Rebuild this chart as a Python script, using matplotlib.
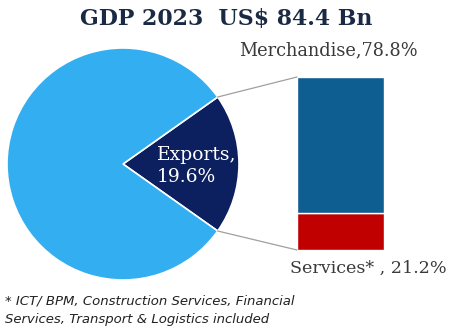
import matplotlib.pyplot as plt
from matplotlib.patches import ConnectionPatch
import numpy as np

# GDP split and export breakdown
pie_labels = ["Exports", "Rest of GDP"]
pie_shares = [19.6, 80.4]
bar_labels = ["Services*", "Merchandise"]
bar_shares = [21.2, 78.8]

PIE_COLORS = ["#0c1f5e", "#33aef0"]
BAR_COLORS = ["#c00000", "#0f5e92"]
TEXT = "#3a3a3a"
W, H = 451, 336

fig = plt.figure(figsize=(W / 100, H / 100), dpi=100)
ax = fig.add_axes([0, 0, 1, 1])

# pie in pixel space, exports wedge centered on the right side
cx, cy, r = 123, H - 164, 116
start = -pie_shares[0] / 100 * 180
wedges, _ = ax.pie(pie_shares, colors=PIE_COLORS, startangle=start, center=(cx, cy),
                   radius=r, wedgeprops={"linewidth": 1.2, "edgecolor": "white"})
ax.set_xlim(0, W)
ax.set_ylim(0, H)
ax.set_aspect("equal")
ax.axis("off")

ax.text(157, cy - 2, f"{pie_labels[0]},\n{pie_shares[0]}%", color="white",
        fontsize=13.5, family="DejaVu Serif", ha="left", va="center", linespacing=1.3)

# stacked bar for export composition
bax = fig.add_axes([297 / W, (H - 250) / H, 87 / W, 173 / H])
bottom = 0
for lab, v, c in zip(bar_labels, bar_shares, BAR_COLORS):
    bax.bar(0, v, bottom=bottom, width=1, color=c, edgecolor="white", linewidth=1)
    bottom += v
bax.set_xlim(-0.5, 0.5)
bax.set_ylim(0, 100)
bax.axis("off")

# connector lines from wedge edges to bar corners
w = wedges[0]
for ang, yb in [(w.theta2, 100), (w.theta1, 0)]:
    px = cx + r * np.cos(np.radians(ang))
    py = cy + r * np.sin(np.radians(ang))
    con = ConnectionPatch(xyA=(px, py), coordsA=ax.transData, xyB=(-0.5, yb),
                          coordsB=bax.transData, color="#a0a0a0", linewidth=0.9)
    fig.add_artist(con)

fig.text(226 / W, 1 - 19 / H, "GDP 2023  US$ 84.4 Bn", ha="center", va="center",
         fontsize=15.8, fontweight="bold", family="DejaVu Serif", color="#1a2a44")
fig.text(418 / W, 1 - 50 / H, f"{bar_labels[1]},{bar_shares[1]}%", ha="right", va="center",
         fontsize=12.8, family="DejaVu Serif", color=TEXT)
fig.text(447 / W, 1 - 268 / H, f"{bar_labels[0]} , {bar_shares[0]}%", ha="right", va="center",
         fontsize=12.6, family="DejaVu Serif", color=TEXT)
fig.text(5 / W, 1 - 310 / H, "* ICT/ BPM, Construction Services, Financial\nServices, Transport & Logistics included",
         ha="left", va="center", fontsize=9.5, style="italic", family="DejaVu Sans",
         color="#222222", linespacing=1.6)

fig.savefig("out.png", dpi=100)
